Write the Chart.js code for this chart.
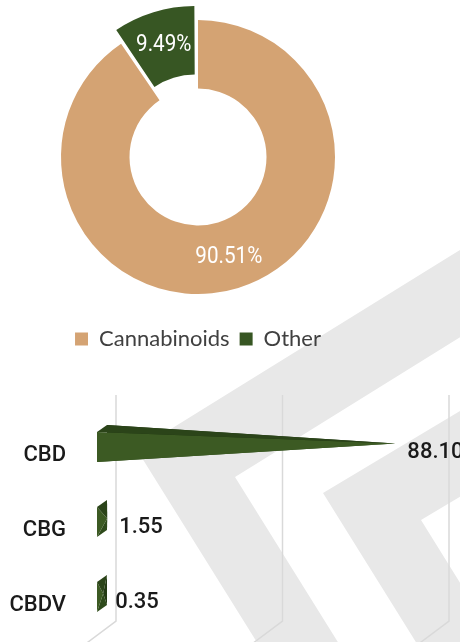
<!DOCTYPE html>
<html>
<head>
<meta charset="utf-8">
<script src="https://cdn.jsdelivr.net/npm/chart.js@4.4.1/dist/chart.umd.min.js"></script>
<style>
  html, body { margin: 0; padding: 0; background: #fff; }
  #page { position: relative; width: 460px; height: 642px; overflow: hidden; }
  #mark { position: absolute; left: 0; top: 0; }
  #donutBox { position: absolute; left: 0; top: -10px; width: 460px; height: 370px; }
  #barBox { position: absolute; left: 0; top: 380px; width: 460px; height: 283px; }
</style>
</head>
<body>
<div id="page">
  <svg id="mark" width="460" height="642">
    <polygon points="560,188 137,450 293,700 374,700 235,477 560,275" fill="#e8e8e8"/>
    <polygon points="560,351 323,493 452,700 533,700 421,520 560,437" fill="#e8e8e8"/>
  </svg>
  <div id="donutBox"><canvas id="donut"></canvas></div>
  <div id="barBox"><canvas id="bars"></canvas></div>
</div>
<script>
// share of the extract
const shareLabels = ['Cannabinoids', 'Other'];
const shareValues = [90.51, 9.49];
const shareColors = ['#D4A373', '#375623'];

// cannabinoid profile
const compoundLabels = ['CBD', 'CBG', 'CBDV'];
const compoundValues = [88.10, 1.55, 0.35];
const gridValues = [0, 50, 100];

// white percentage text inside each slice
const sliceLabels = {
    id: 'sliceLabels',
    afterDatasetsDraw(chart) {
        const ctx = chart.ctx;
        const meta = chart.getDatasetMeta(0);
        meta.data.forEach((arc, i) => {
            const p = arc.getProps(['x', 'y', 'startAngle', 'endAngle', 'innerRadius', 'outerRadius'], true);
            const mid = (p.startAngle + p.endAngle) / 2;
            const push = (arc.options.offset || 0) * 0.3;
            const r = (p.innerRadius + p.outerRadius) / 2 + 2 + push;
            ctx.save();
            ctx.translate(p.x + Math.cos(mid) * r, p.y + Math.sin(mid) * r);
            ctx.scale(0.86, 1);
            ctx.fillStyle = '#ffffff';
            ctx.font = "24px Roboto, sans-serif";
            ctx.textAlign = 'center';
            ctx.textBaseline = 'middle';
            ctx.fillText(shareValues[i].toFixed(2) + '%', 0, 0);
            ctx.restore();
        });
    }
};

// 3D-looking back wall lines and pyramid bars
const FRONT_DX = -19, FRONT_DY = -8, DEPTH_DX = 10, DEPTH_DY = -7;

const pyramidBars = {
    id: 'pyramidBars',
    beforeDatasetsDraw(chart) {
        const ctx = chart.ctx;
        const xs = chart.scales.x;
        ctx.save();
        ctx.strokeStyle = '#d9d9d9';
        ctx.lineWidth = 1.5;
        gridValues.forEach(v => {
            const px = xs.getPixelForValue(v);
            ctx.beginPath();
            ctx.moveTo(px, 15);
            ctx.lineTo(px, 241);
            ctx.lineTo(px - 56, 283);
            ctx.stroke();
        });
        ctx.restore();
    },
    afterDatasetsDraw(chart) {
        const ctx = chart.ctx;
        const meta = chart.getDatasetMeta(0);
        ctx.save();
        meta.data.forEach((bar, i) => {
            const p = bar.getProps(['x', 'y', 'base', 'height'], true);
            const fx = p.base + FRONT_DX;
            const fy = p.y + FRONT_DY;
            const top = fy - p.height / 2, bot = fy + p.height / 2;
            const ax = p.x + FRONT_DX + DEPTH_DX / 2;
            const ay = fy + DEPTH_DY / 2;
            const FT = [fx, top], FB = [fx, bot];
            const BT = [fx + DEPTH_DX, top + DEPTH_DY], BB = [fx + DEPTH_DX, bot + DEPTH_DY];
            const A = [ax, ay];
            const face = (pts, color) => {
                ctx.beginPath();
                ctx.moveTo(pts[0][0], pts[0][1]);
                pts.slice(1).forEach(q => ctx.lineTo(q[0], q[1]));
                ctx.closePath();
                ctx.fillStyle = color;
                ctx.fill();
            };
            face([BT, BB, A], '#233a14');
            face([FB, BB, A], '#2e4a1b');
            face([FT, FB, A], '#3c5a23');
            face([FT, BT, A], '#2b4419');

            ctx.fillStyle = '#1a1a1a';
            ctx.font = "500 22px Roboto, sans-serif";
            ctx.textAlign = 'left';
            ctx.textBaseline = 'middle';
            ctx.fillText(compoundValues[i].toFixed(2), p.x - 2, p.y - 3);
        });
        ctx.restore();
    }
};

new Chart(document.getElementById('donut'), {
    type: 'doughnut',
    data: {
        labels: shareLabels,
        datasets: [{
            data: shareValues,
            backgroundColor: shareColors,
            borderWidth: 0,
            offset: [0, 40],
            hoverOffset: 0,
            radius: 137,
            cutout: '50%'
        }]
    },
    options: {
        responsive: true,
        maintainAspectRatio: false,
        animation: false,
        rotation: 0,
        layout: { padding: { top: 6, right: 64 } },
        plugins: {
            legend: {
                position: 'bottom',
                labels: {
                    boxWidth: 13,
                    boxHeight: 13,
                    padding: 10,
                    color: '#404040',
                    font: { family: 'Lato', size: 22 }
                }
            },
            tooltip: { enabled: false }
        }
    },
    plugins: [sliceLabels]
});

new Chart(document.getElementById('bars'), {
    type: 'bar',
    data: {
        labels: compoundLabels,
        datasets: [{
            data: compoundValues,
            backgroundColor: 'rgba(0,0,0,0)',
            borderWidth: 0,
            barThickness: 30
        }]
    },
    options: {
        indexAxis: 'y',
        responsive: true,
        maintainAspectRatio: false,
        animation: false,
        layout: { padding: { top: 37.5, right: 11, bottom: 20.5, left: 0 } },
        scales: {
            x: { min: 0, max: 100, display: false },
            y: {
                grid: {
                    display: true,
                    drawOnChartArea: false,
                    drawTicks: true,
                    tickLength: 46,
                    color: 'rgba(0,0,0,0)'
                },
                border: { display: false },
                ticks: {
                    padding: 4,
                    color: '#1a1a1a',
                    font: { family: 'Roboto', size: 22, weight: '500' }
                },
                afterFit(scale) { scale.width = 116; }
            }
        },
        plugins: {
            legend: { display: false },
            tooltip: { enabled: false }
        }
    },
    plugins: [pyramidBars]
});
</script>
</body>
</html>
